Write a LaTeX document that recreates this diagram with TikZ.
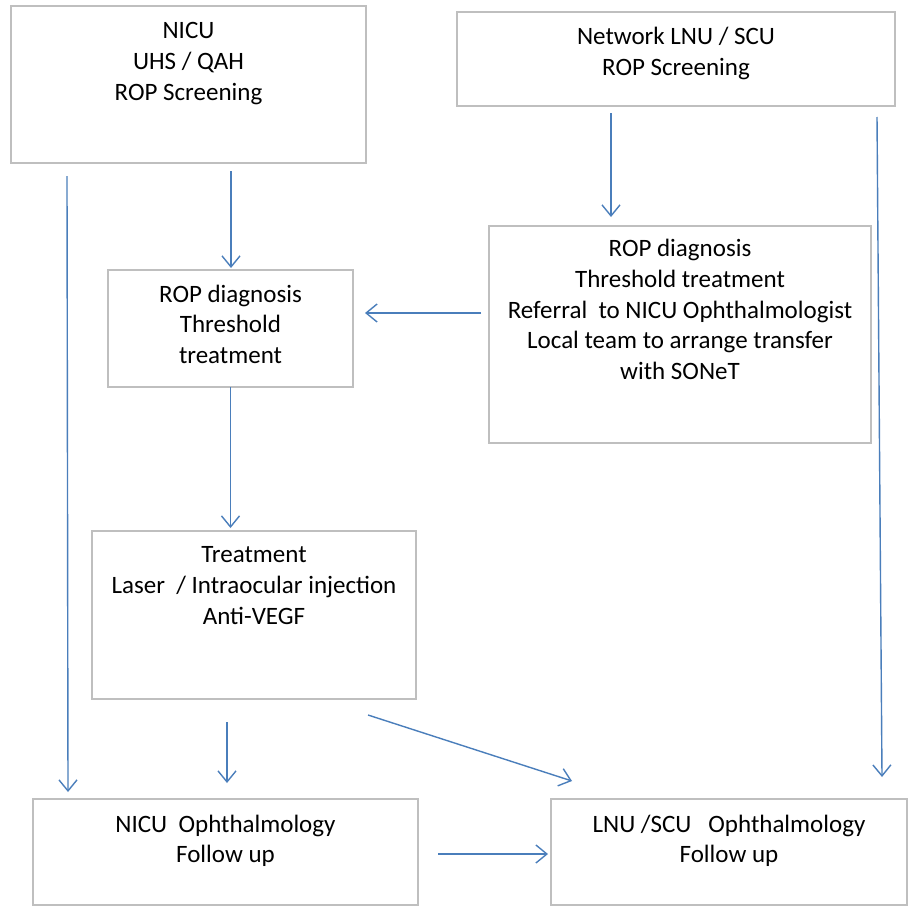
\documentclass[tikz,border=0pt]{standalone}
\usepackage{fontspec}
\setmainfont{Carlito}
\usetikzlibrary{arrows.meta}
\definecolor{boxgray}{RGB}{191,191,191}
\definecolor{arrblue}{RGB}{74,126,187}
\newcommand{\bxt}[4]{\parbox[t][#1pt][t]{#2pt}{\centering\rule{0pt}{#3pt}#4}}
\begin{document}
\begin{tikzpicture}[x=1pt,y=-1pt,
  boxst/.style={draw=boxgray,line width=1.3pt,inner sep=0pt,outer sep=0pt,anchor=north west,
    font=\fontsize{25}{30.8}\selectfont,text=black},
  arr/.style={draw=arrblue,line width=1.4pt,-{Straight Barb[length=11pt,width=18pt]}}]
\fill[white] (0,0) rectangle (909,907);
\useasboundingbox (0,0) rectangle (909,907);
% boxes
\node[boxst] (nicu) at (11,6) {\bxt{157}{355}{32.5}{NICU\\UHS / QAH\\ROP Screening}};
\node[boxst] (net) at (457,12) {\bxt{94}{438}{32.5}{Network LNU / SCU\\ROP Screening}};
\node[boxst] (rl) at (108,270) {\bxt{117}{245}{32}{ROP diagnosis\\Threshold\\treatment}};
\node[boxst] (rr) at (489,226) {\bxt{217}{382}{30.5}{ROP diagnosis\\Threshold treatment\\Referral\ \ to NICU Ophthalmologist\\Local team to arrange transfer\\with SONeT}};
\node[boxst] (tr) at (92,531) {\bxt{168}{324}{31.5}{Treatment\\Laser\ \ / Intraocular injection\\Anti-VEGF}};
\node[boxst] (nf) at (33,799) {\bxt{106}{385}{33}{NICU\ \ Ophthalmology\\Follow up}};
\node[boxst] (lf) at (551,799) {\bxt{106}{356}{33}{LNU /SCU\ \ \ Ophthalmology\\Follow up}};
% connector ends
\coordinate (a1s) at (67,176);  \coordinate (a1e) at (68,792);
\coordinate (a2s) at (231,171); \coordinate (a2e) at (231,268);
\coordinate (a3s) at (611,113); \coordinate (a3e) at (611,217);
\coordinate (a4s) at (877,117); \coordinate (a4e) at (882,777);
\coordinate (a5s) at (481,313); \coordinate (a5e) at (365,313);
\coordinate (a6e) at (230.5,528);
\coordinate (a7s) at (227,722); \coordinate (a7e) at (227,783);
\coordinate (a8s) at (368,715); \coordinate (a8e) at (572,781);
\coordinate (a9s) at (438,854); \coordinate (a9e) at (548,854);
% connectors
\draw[arr] (a1s) -- (a1e);
\draw[arr] (a2s) -- (a2e);
\draw[arr] (a3s) -- (a3e);
\draw[arr] (a4s) -- (a4e);
\draw[arr] (a5s) -- (a5e);
\draw[arr] (rl.south) -- (a6e);
\draw[arr] (a7s) -- (a7e);
\draw[arr] (a8s) -- (a8e);
\draw[arr] (a9s) -- (a9e);
\end{tikzpicture}
\end{document}
